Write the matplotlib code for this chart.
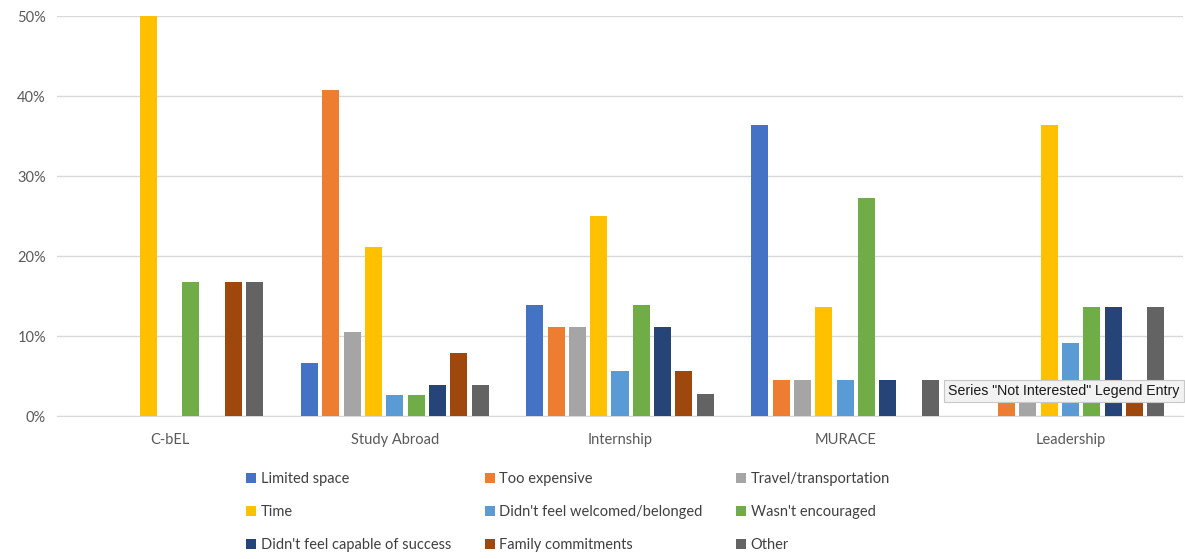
import numpy as np
import matplotlib.pyplot as plt
from matplotlib.patches import Patch
from matplotlib.ticker import FuncFormatter

plt.rcParams['font.family'] = ['Lato', 'DejaVu Sans']

programs = ['C-bEL', 'Study Abroad', 'Internship', 'MURACE', 'Leadership']

reasons = [
    'Limited space',
    'Too expensive',
    'Travel/transportation',
    'Time',
    "Didn't feel welcomed/belonged",
    "Wasn't encouraged",
    "Didn't feel capable of success",
    'Family commitments',
    'Other',
]

# share of respondents (%) per program, one list per reason
limited_space = [0.0, 6.6, 13.9, 36.4, 0.0]
too_expensive = [0.0, 40.8, 11.1, 4.5, 4.5]
travel = [0.0, 10.5, 11.1, 4.5, 4.5]
time_ = [50.0, 21.1, 25.0, 13.6, 36.4]
not_welcomed = [0.0, 2.6, 5.6, 4.5, 9.1]
not_encouraged = [16.7, 2.6, 13.9, 27.3, 13.6]
not_capable = [0.0, 3.9, 11.1, 4.5, 13.6]
family = [16.7, 7.9, 5.6, 0.0, 4.5]
other = [16.7, 3.9, 2.8, 4.5, 13.6]

series = [limited_space, too_expensive, travel, time_, not_welcomed,
          not_encouraged, not_capable, family, other]

colors = ['#4472C4', '#ED7D31', '#A5A5A5', '#FFC000', '#5B9BD5',
          '#70AD47', '#264478', '#9E480E', '#636363']

fig = plt.figure(figsize=(11.85, 5.59), dpi=100)
W, H = 1185, 559
ax = fig.add_axes([57 / W, 1 - 416 / H, (1183 - 57) / W, (416 - 16) / H])

x = np.arange(len(programs))
pitch = 0.0947
width = 0.0756
for i, (vals, col) in enumerate(zip(series, colors)):
    ax.bar(x + (i - 4) * pitch, vals, width=width, color=col, zorder=3)

ax.set_xlim(-0.5, len(programs) - 0.5)
ax.set_ylim(0, 50)
ax.set_yticks(np.arange(0, 51, 10))
ax.yaxis.set_major_formatter(FuncFormatter(lambda v, _: f'{v:.0f}%'))
ax.set_xticks(x)
ax.set_xticklabels(programs)
ax.tick_params(axis='both', length=0, labelsize=10.5, colors='#595959')
ax.tick_params(axis='x', pad=12)
ax.tick_params(axis='y', pad=8)
ax.grid(axis='y', color='#D9D9D9', linewidth=1, zorder=0)
for side in ['top', 'right', 'left']:
    ax.spines[side].set_visible(False)
ax.spines['bottom'].set_color('#D9D9D9')

# Excel legend reads row by row; matplotlib fills columns, so reorder
order = [0, 3, 6, 1, 4, 7, 2, 5, 8]
handles = [Patch(facecolor=colors[k], edgecolor='none') for k in order]
labels = [reasons[k] for k in order]
fig.legend(handles, labels, ncol=3, loc='upper left',
           bbox_to_anchor=(233 / W, 1 - 459 / H), frameon=False,
           handlelength=0.7, handleheight=0.7, handletextpad=0.3,
           columnspacing=2.3, labelspacing=1.3, fontsize=10.5,
           labelcolor='#404040')

# hover tooltip over the legend entry
fig.text(948 / W, 1 - 391 / H, 'Series "Not Interested" Legend Entry',
         family=['Liberation Sans', 'DejaVu Sans'], fontsize=10.2,
         color='#1A1A1A', va='center', ha='left', zorder=10,
         bbox=dict(boxstyle='square,pad=0.3', fc='#F2F2F2', ec='#C8C8C8', lw=0.8))

fig.savefig('out.png', dpi=100)
